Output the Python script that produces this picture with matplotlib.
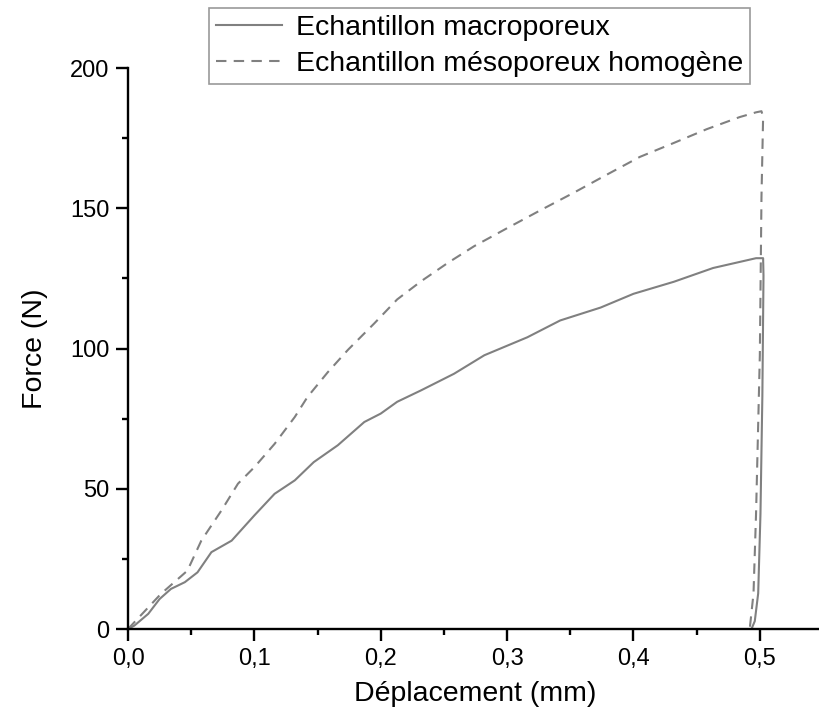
import matplotlib.pyplot as plt
from matplotlib.ticker import MultipleLocator, FuncFormatter

plt.rcParams['font.family'] = ['Liberation Sans', 'DejaVu Sans']

# Echantillon macroporeux (solid)
macro_x = [0.0, 0.005, 0.016, 0.025, 0.034, 0.045, 0.055, 0.066, 0.082, 0.1,
           0.116, 0.132, 0.147, 0.166, 0.187, 0.2, 0.213, 0.232, 0.258, 0.282,
           0.316, 0.342, 0.374, 0.4, 0.432, 0.463, 0.497, 0.5026,
           0.5029, 0.502, 0.5005, 0.4987, 0.496, 0.4934]
macro_y = [0.0, 1.2, 5.4, 10.7, 14.3, 16.7, 20.2, 27.4, 31.5, 40.5,
           48.2, 53.0, 59.5, 65.5, 73.8, 76.8, 81.0, 85.1, 91.0, 97.6,
           104.0, 110.0, 114.6, 119.5, 123.8, 128.7, 132.2, 132.2,
           126.0, 83.0, 41.0, 12.7, 2.8, 0.0]

# Echantillon mesoporeux homogene (dashed)
meso_x = [0.0, 0.026, 0.047, 0.058, 0.074, 0.087, 0.1, 0.116, 0.132, 0.142,
          0.158, 0.174, 0.195, 0.213, 0.232, 0.253, 0.274, 0.3, 0.326, 0.353,
          0.379, 0.405, 0.432, 0.458, 0.484, 0.497, 0.5013, 0.5026,
          0.5013, 0.5, 0.497, 0.495, 0.492]
meso_y = [0.0, 12.5, 20.8, 31.5, 42.3, 51.8, 57.7, 66.0, 75.6, 82.7,
          91.5, 99.5, 109.0, 117.5, 124.0, 130.5, 136.5, 142.9, 149.2, 155.6,
          162.0, 168.3, 173.3, 178.2, 182.5, 184.2, 184.6, 182.5,
          154.0, 97.6, 41.0, 12.7, 0.0]

fig = plt.figure(figsize=(8.19, 7.22), dpi=100)
ax = fig.add_axes([0.1563, 0.1288, 0.8486, 0.777])

gray = '#808080'
ax.plot(macro_x, macro_y, color=gray, lw=1.5, label='Echantillon macroporeux')
ax.plot(meso_x, meso_y, color=gray, lw=1.5, ls=(0, (5, 3.5)),
        label='Echantillon mésoporeux homogène')

ax.set_xlim(0, 0.55)
ax.set_ylim(0, 200)
ax.xaxis.set_major_locator(MultipleLocator(0.1))
ax.xaxis.set_minor_locator(MultipleLocator(0.05))
ax.yaxis.set_major_locator(MultipleLocator(50))
ax.yaxis.set_minor_locator(MultipleLocator(25))
ax.xaxis.set_major_formatter(FuncFormatter(lambda v, p: f'{v:.1f}'.replace('.', ',')))

for s in ['top', 'right']:
    ax.spines[s].set_visible(False)
for s in ['left', 'bottom']:
    ax.spines[s].set_linewidth(1.7)
    ax.spines[s].set_color('black')

ax.tick_params(which='major', direction='out', length=8.5, width=1.7, labelsize=17, pad=5)
ax.tick_params(which='minor', direction='out', length=4, width=1.7)

ax.set_xlabel('Déplacement (mm)', fontsize=20.5, labelpad=8)
ax.set_ylabel('Force (N)', fontsize=20.5, labelpad=16)

leg = fig.legend(loc='upper left', bbox_to_anchor=(209 / 819, 1 - 8 / 722), fontsize=20.5,
                 frameon=True, fancybox=False, edgecolor=gray, handlelength=2.3,
                 borderpad=0.25, labelspacing=0.35, handletextpad=0.5, borderaxespad=0)
leg.get_frame().set_linewidth(1.2)

fig.savefig('out.png', dpi=100)
